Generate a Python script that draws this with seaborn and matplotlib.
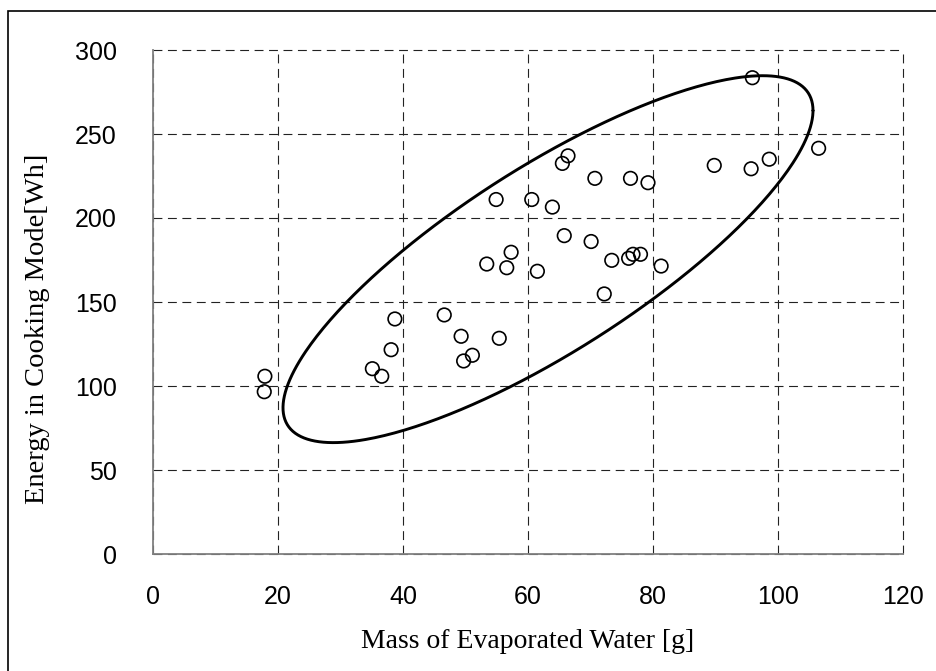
import numpy as np
import pandas as pd
import matplotlib
matplotlib.use("Agg")
import matplotlib.pyplot as plt
import seaborn as sns
from matplotlib.patches import Rectangle

# evaporated water [g] vs cooking-mode energy [Wh]
water_g = [17.9, 17.8, 35.1, 36.6, 38.1, 38.7, 46.6, 49.3, 49.7, 51.1,
           55.4, 53.4, 56.6, 57.3, 54.9, 60.6, 61.5, 63.9, 65.8, 65.5,
           66.4, 70.1, 70.7, 72.2, 73.4, 76.4, 76.1, 76.8, 78.0, 79.2,
           81.3, 89.8, 95.7, 98.6, 95.9, 106.5]
energy_wh = [105.8, 96.6, 110.3, 105.8, 121.6, 139.9, 142.3, 129.6, 114.9, 118.3,
             128.4, 172.6, 170.4, 179.6, 211.0, 211.0, 168.3, 206.5, 189.5, 232.5,
             237.0, 186.0, 223.6, 154.8, 174.8, 223.6, 176.0, 178.4, 178.4, 221.0,
             171.4, 231.3, 229.3, 235.0, 283.5, 241.5]

# hand-drawn grouping ellipse: centre, x half-width, y half-height, phase shift
ell_cx, ell_cy = 63.2, 175.5
ell_a, ell_b = 42.4, 109.2
ell_phase = np.deg2rad(35.9)

x_ticks = [0, 20, 40, 60, 80, 100, 120]
y_ticks = [0, 50, 100, 150, 200, 250, 300]

df = pd.DataFrame({"water": water_g, "energy": energy_wh})

sns.set_style("white")
plt.rcParams["font.family"] = ["Liberation Sans", "DejaVu Sans"]
plt.rcParams["text.color"] = "black"
plt.rcParams["axes.labelcolor"] = "black"
plt.rcParams["xtick.color"] = "black"
plt.rcParams["ytick.color"] = "black"

fig = plt.figure(figsize=(9.36, 6.71), dpi=100)
ax = fig.add_axes([153 / 936, 1 - 554 / 671, 750 / 936, 504 / 671])

# outer frame of the original figure (only left/top edges are visible)
fig.patches.append(Rectangle((8 / 936, -0.1), 1.2, 1 - 11 / 671 + 0.1,
                             transform=fig.transFigure, fill=False,
                             edgecolor="black", linewidth=1.2))

sns.scatterplot(data=df, x="water", y="energy", ax=ax, marker="o", s=95,
                facecolor="none", edgecolor="black", linewidth=1.2, zorder=4)

t = np.linspace(0, 2 * np.pi, 400)
ax.plot(ell_cx + ell_a * np.cos(t), ell_cy + ell_b * np.cos(t - ell_phase),
        color="black", linewidth=2.1, zorder=3)

ax.set_xlim(0, 120)
ax.set_ylim(0, 300)
ax.set_xticks(x_ticks)
ax.set_yticks(y_ticks)
ax.grid(True, color="#222222", linestyle=(0, (8, 5)), linewidth=0.8)
ax.set_axisbelow(True)
for gl in ax.get_xgridlines() + ax.get_ygridlines():
    gl.set_clip_on(False)

for side in ["top", "right"]:
    ax.spines[side].set_visible(False)
for side in ["left", "bottom"]:
    ax.spines[side].set_color("#808080")
    ax.spines[side].set_linewidth(1.3)
    ax.spines[side].set_zorder(3.5)

ax.tick_params(axis="both", direction="in", length=4, width=1.0, color="black",
               labelsize=18)
ax.tick_params(axis="y", pad=26)
ax.tick_params(axis="x", pad=22)

ax.set_xlabel("Mass of Evaporated Water [g]", family="Liberation Serif",
              fontsize=20, va="center")
ax.set_ylabel("Energy in Cooking Mode[Wh]", family="Liberation Serif",
              fontsize=20.5, va="center")
ax.xaxis.set_label_coords(0.5, (554 - 641) / 504)
ax.yaxis.set_label_coords((38 - 153) / 750, (554 - 329) / 504)

fig.savefig("out.png", dpi=100)
